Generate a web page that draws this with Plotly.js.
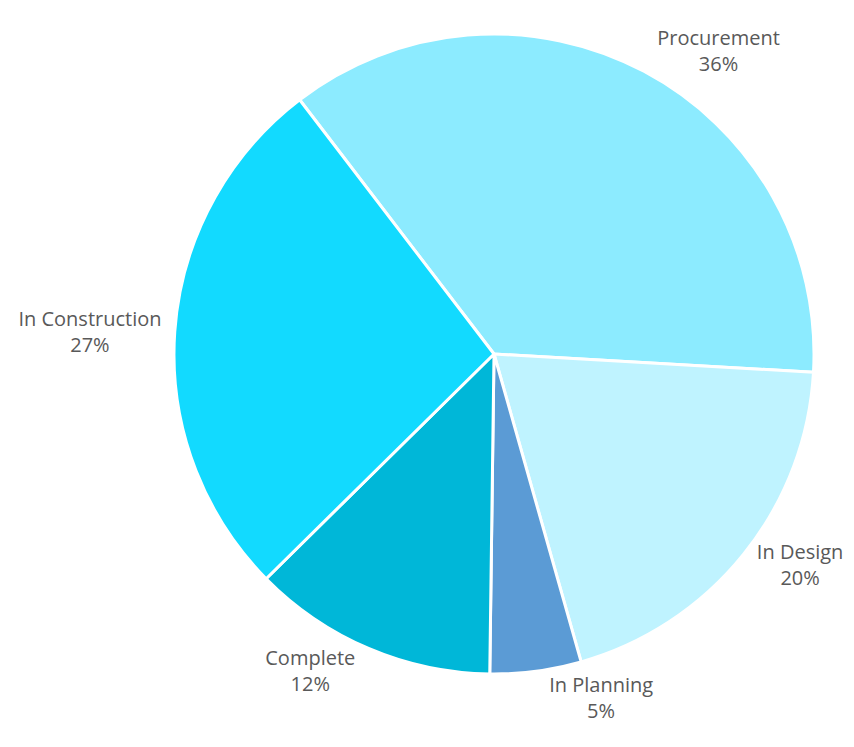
<!DOCTYPE html>
<html><head><meta charset="utf-8">
<script src="https://cdn.plot.ly/plotly-3.0.1.min.js"></script>
<style>html,body{margin:0;padding:0;background:#fff;}#chart{width:854px;height:747px;}</style>
</head><body><div id="chart"></div>
<script>
const categories = ["Procurement", "In Design", "In Planning", "Complete", "In Construction"];
const values = [36.3, 19.7, 4.6, 12.4, 27.0];
const colors = ["#8CEBFF", "#BFF3FF", "#5B9BD5", "#00B7D8", "#12DAFF"];

Plotly.newPlot("chart", [{
  type: "pie",
  labels: categories,
  values: values,
  sort: false,
  direction: "clockwise",
  rotation: -37.4,
  domain: {x: [0.2037, 0.9532], y: [0.0977, 0.9545]},
  marker: {colors: colors, line: {color: "#ffffff", width: 3}},
  textposition: "outside",
  texttemplate: "%{label}<br>%{percent:.0%}",
  textfont: {family: "Open Sans, Noto Sans, sans-serif", size: 20, color: "#595959"},
  showlegend: false,
  hoverinfo: "label+percent"
}], {
  width: 854, height: 747,
  margin: {l: 0, r: 0, t: 0, b: 0},
  paper_bgcolor: "#ffffff",
  showlegend: false
}, {displayModeBar: false, staticPlot: true});
</script></body></html>
